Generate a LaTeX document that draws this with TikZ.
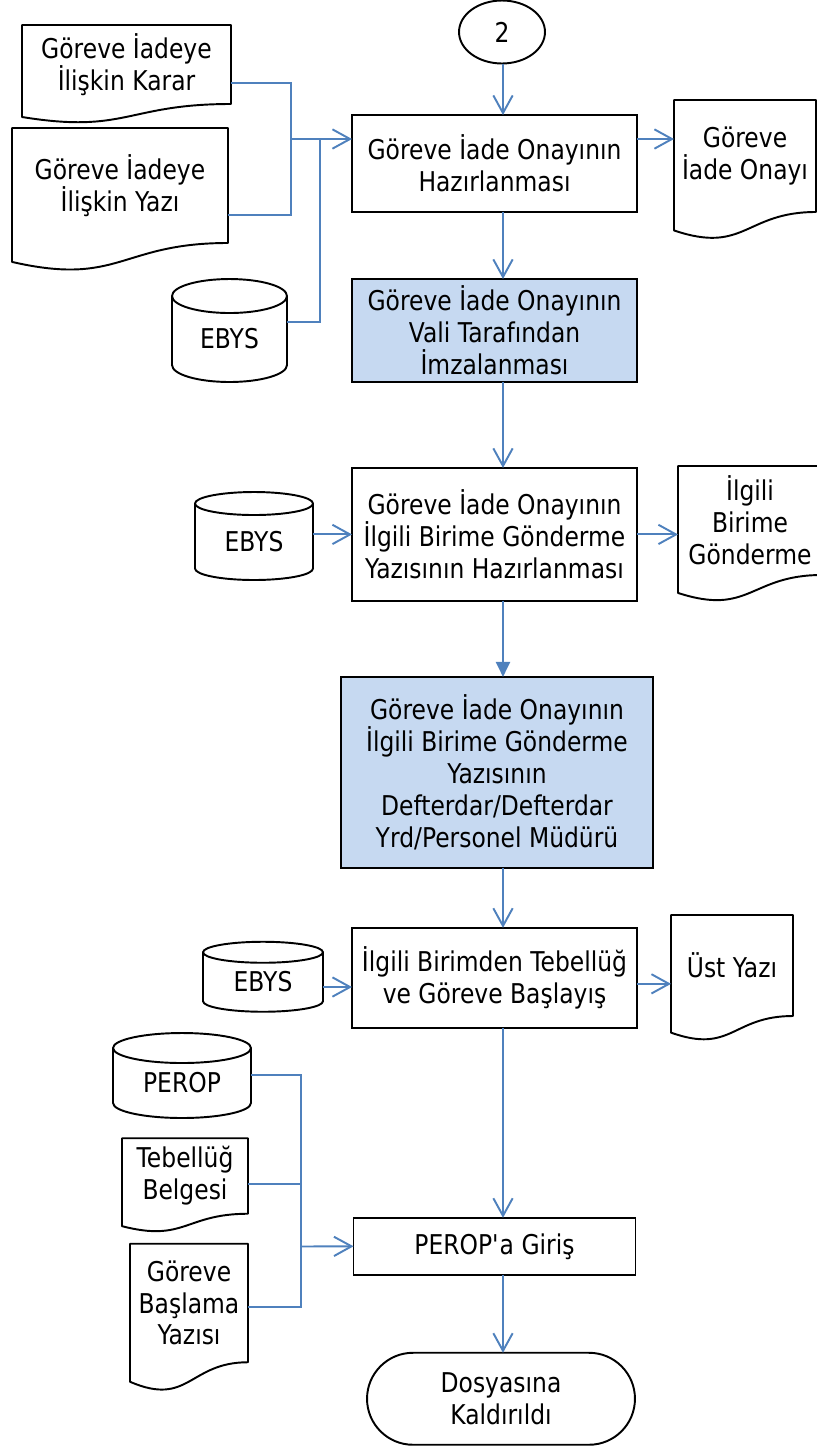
\documentclass[tikz,border=0pt]{standalone}
\usepackage{fontspec}
\setmainfont{DejaVu Sans}[FakeStretch=0.86]
\usetikzlibrary{positioning,calc,arrows.meta,shapes.geometric}
\definecolor{flowblue}{RGB}{79,129,189}
\definecolor{boxblue}{RGB}{198,217,241}

\begin{document}
\begin{tikzpicture}[
    x=0.02cm, y=-0.02cm,
    every node/.style={font=\fontsize{15.5}{18.1}\selectfont},
    process/.style={rectangle, draw, line width=1.1pt, outer sep=0pt, minimum width=5.7cm, align=center, inner sep=2pt},
    signed/.style={process, fill=boxblue},
    doc/.style={rectangle, align=center, inner sep=1pt, outer sep=0pt},
    dbase/.style={rectangle, align=center, inner sep=0pt, outer sep=0pt},
    connector/.style={ellipse, draw, line width=1.1pt, minimum width=1.72cm, minimum height=1.26cm},
    terminal/.style={rectangle, draw, line width=1.1pt, outer sep=0pt, rounded corners=0.92cm, minimum width=5.36cm, minimum height=1.84cm, align=center},
    docline/.style={draw, line width=1.1pt, line join=round},
    link/.style={draw=flowblue, line width=1.1pt},
    arrow/.style={link, -{Straight Barb[length=10pt,width=11pt]}},
    arrowfill/.style={link, -{Triangle[length=8.5pt,width=8pt]}}
]
\useasboundingbox (0,0) rectangle (817,1448);
\clip (0,0) rectangle (817,1448);

% Start
\node[connector] (start) at (502,32) {2};
\coordinate (spine) at (503,0);

% Main flow
\node[process, minimum height=1.94cm] (prep) at (494.5,163.5) {Göreve İade Onayının\\Hazırlanması};
\node[signed, minimum height=2.06cm, below=1.34cm of prep] (sign) {Göreve İade Onayının\\Vali Tarafından\\İmzalanması};
\node[process, minimum height=2.66cm, below=1.72cm of sign] (send) {Göreve İade Onayının\\İlgili Birime Gönderme\\Yazısının Hazırlanması};
\node[signed, minimum width=6.24cm, minimum height=3.82cm, below=1.52cm of send, xshift=0.05cm] (approve) {Göreve İade Onayının\\İlgili Birime Gönderme\\Yazısının\\Defterdar/Defterdar\\Yrd/Personel Müdürü};
\node[process, minimum height=2cm, below=1.2cm of approve, xshift=-0.05cm] (notify) {İlgili Birimden Tebellüğ\\ve Göreve Başlayış};
\node[process, minimum width=5.64cm, minimum height=1.14cm, below=3.8cm of notify] (entry) {PEROP\textquotesingle a Giriş};
\node[terminal, below=1.56cm of entry, xshift=0.13cm] (archive) {Dosyasına\\Kaldırıldı};

% Documents
\node[doc, minimum width=4.18cm, minimum height=1.58cm] (karar) at (126.5,64.5) {Göreve İadeye\\İlişkin Karar};
\node[doc, minimum width=4.32cm, minimum height=2.3cm] (yazi) at (120,185.5) {Göreve İadeye\\İlişkin Yazı};
\node[doc, minimum width=2.84cm, minimum height=2.24cm] (onay) at (745,156) {Göreve\\İade Onayı};
\node[doc, minimum width=2.88cm, minimum height=2.18cm] (birim) at (750,520.5) {İlgili\\Birime\\Gönderme};
\node[doc, minimum width=2.44cm, minimum height=2.02cm] (ustyazi) at (732,965.5) {Üst Yazı};
\node[doc, minimum width=2.52cm, minimum height=1.51cm] (tebellug) at (185,1176) {Tebellüğ\\Belgesi};
\node[doc, minimum width=2.36cm, minimum height=2.37cm] (baslama) at (189,1303) {Göreve\\Başlama\\Yazısı};

% Databases
\node[dbase, minimum width=2.3cm, minimum height=1.04cm] (ebysA) at (229.5,339) {EBYS};
\node[dbase, minimum width=2.36cm, minimum height=1.07cm] (ebysB) at (254,541.75) {EBYS};
\node[dbase, minimum width=2.4cm, minimum height=0.77cm] (ebysC) at (263,982) {EBYS};
\node[dbase, minimum width=2.76cm, minimum height=0.8cm] (perop) at (182,1083) {PEROP};

% Outlines
\foreach \nm in {karar,yazi,onay,birim,ustyazi,tebellug,baslama}
  \draw[docline] (\nm.north west) -- (\nm.north east) -- (\nm.south east)
    .. controls (\nm.south) and ($(\nm.north)!1.38!(\nm.south)$)
    .. ($(\nm.north west)!1.1646!(\nm.south west)$) -- cycle;
\foreach \nm/\ry in {ebysA/0.34cm, ebysB/0.23cm, ebysC/0.21cm, perop/0.3cm}
  \draw[docline] let \p1=($(\nm.east)-(\nm.west)$) in
    ([yshift=\ry]\nm.north west) -- (\nm.south west)
    arc[start angle=180, end angle=360, x radius=0.5*\x1, y radius=\ry]
    -- ([yshift=\ry]\nm.north east)
    ([yshift=\ry]\nm.north) ellipse[x radius=0.5*\x1, y radius=\ry];

% Inputs
\coordinate (joinA) at (291,139);
\coordinate (joinB) at (320,139);
\coordinate (joinC) at (301,1246.5);
\draw[link] ([yshift=-0.37cm]karar.east) -| (joinA);
\draw[link] ([yshift=-0.59cm]yazi.east) -| (joinA);
\draw[link] ([yshift=0.34cm]ebysA.east) -| (joinB);
\draw[arrow] (joinA) -- (joinA -| prep.west);
\draw[arrow] (ebysB.east |- send) -- (send.west);
\draw[arrow] ([yshift=-0.1cm]ebysC.east) -- ([yshift=-0.1cm]ebysC.east -| notify.west);
\draw[link] ([yshift=0.16cm]perop.east) -| (joinC);
\draw[link] ([yshift=-0.16cm]tebellug.east) -| (joinC);
\draw[link] ([yshift=-0.08cm]baslama.east) -| (joinC);
\draw[arrow] (joinC) -- (entry.west);

% Outputs
\draw[arrow] (joinA -| prep.east) -- (joinA -| onay.west);
\draw[arrow] (send.east) -- (send.east -| birim.west);
\draw[arrow] ([yshift=-0.12cm]notify.east) -- ([yshift=-0.12cm]notify.east -| ustyazi.west);

% Vertical arrows
\draw[arrow] (start.south -| spine) -- (prep.north -| spine);
\draw[arrow] (prep.south -| spine) -- (sign.north -| spine);
\draw[arrow] (sign.south -| spine) -- (send.north -| spine);
\draw[arrowfill] (send.south -| spine) -- (approve.north -| spine);
\draw[arrow] (approve.south -| spine) -- (notify.north -| spine);
\draw[arrow] (notify.south -| spine) -- (entry.north -| spine);
\draw[arrow] (entry.south -| spine) -- (archive.north -| spine);

\end{tikzpicture}
\end{document}
